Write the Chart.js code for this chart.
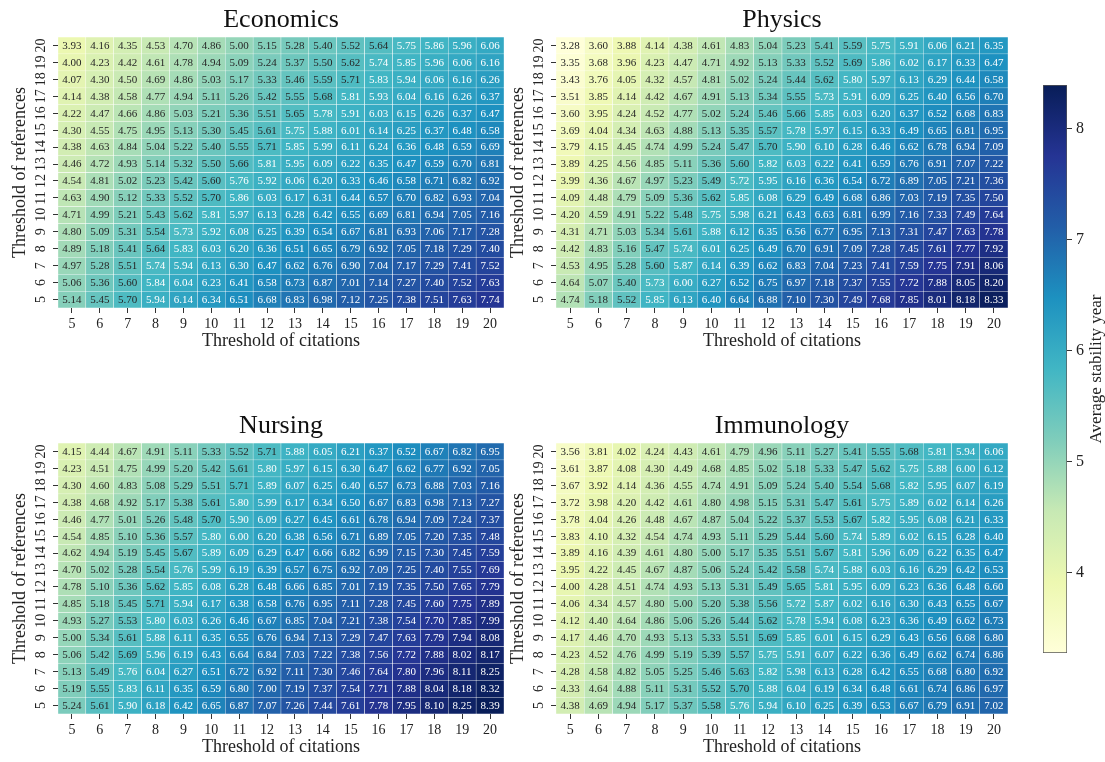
<!DOCTYPE html>
<html>
  <head>
    <meta charset="utf-8">
    <title>Average stability year by citation and reference thresholds</title>
    <style>
      body { margin: 0; background: #fff; overflow: hidden; }
      #wrap { position: relative; width: 1105px; height: 762px; }
      canvas { position: absolute; }
    </style>
  </head>
  <body>
    <div id="wrap">
      <canvas id="economics" width="510" height="356" style="left:0;top:0"></canvas>
      <canvas id="physics" width="512" height="356" style="left:498px;top:0"></canvas>
      <canvas id="nursing" width="510" height="356" style="left:0;top:406px"></canvas>
      <canvas id="immunology" width="512" height="356" style="left:498px;top:406px"></canvas>
      <canvas id="colorbar" width="82" height="762" style="left:1030px;top:0"></canvas>
    </div>

    <script src="https://cdn.jsdelivr.net/npm/chart.js"></script>
    <script>
      // columns: threshold of citations, rows: threshold of references (top row = 20)
      const citations = [5, 6, 7, 8, 9, 10, 11, 12, 13, 14, 15, 16, 17, 18, 19, 20];
      const refRows = [20, 19, 18, 17, 16, 15, 14, 13, 12, 11, 10, 9, 8, 7, 6, 5];
      const cbTicks = [4, 5, 6, 7, 8];

      const economics = [
        [3.93, 4.16, 4.35, 4.53, 4.70, 4.86, 5.00, 5.15, 5.28, 5.40, 5.52, 5.64, 5.75, 5.86, 5.96, 6.06],
        [4.00, 4.23, 4.42, 4.61, 4.78, 4.94, 5.09, 5.24, 5.37, 5.50, 5.62, 5.74, 5.85, 5.96, 6.06, 6.16],
        [4.07, 4.30, 4.50, 4.69, 4.86, 5.03, 5.17, 5.33, 5.46, 5.59, 5.71, 5.83, 5.94, 6.06, 6.16, 6.26],
        [4.14, 4.38, 4.58, 4.77, 4.94, 5.11, 5.26, 5.42, 5.55, 5.68, 5.81, 5.93, 6.04, 6.16, 6.26, 6.37],
        [4.22, 4.47, 4.66, 4.86, 5.03, 5.21, 5.36, 5.51, 5.65, 5.78, 5.91, 6.03, 6.15, 6.26, 6.37, 6.47],
        [4.30, 4.55, 4.75, 4.95, 5.13, 5.30, 5.45, 5.61, 5.75, 5.88, 6.01, 6.14, 6.25, 6.37, 6.48, 6.58],
        [4.38, 4.63, 4.84, 5.04, 5.22, 5.40, 5.55, 5.71, 5.85, 5.99, 6.11, 6.24, 6.36, 6.48, 6.59, 6.69],
        [4.46, 4.72, 4.93, 5.14, 5.32, 5.50, 5.66, 5.81, 5.95, 6.09, 6.22, 6.35, 6.47, 6.59, 6.70, 6.81],
        [4.54, 4.81, 5.02, 5.23, 5.42, 5.60, 5.76, 5.92, 6.06, 6.20, 6.33, 6.46, 6.58, 6.71, 6.82, 6.92],
        [4.63, 4.90, 5.12, 5.33, 5.52, 5.70, 5.86, 6.03, 6.17, 6.31, 6.44, 6.57, 6.70, 6.82, 6.93, 7.04],
        [4.71, 4.99, 5.21, 5.43, 5.62, 5.81, 5.97, 6.13, 6.28, 6.42, 6.55, 6.69, 6.81, 6.94, 7.05, 7.16],
        [4.80, 5.09, 5.31, 5.54, 5.73, 5.92, 6.08, 6.25, 6.39, 6.54, 6.67, 6.81, 6.93, 7.06, 7.17, 7.28],
        [4.89, 5.18, 5.41, 5.64, 5.83, 6.03, 6.20, 6.36, 6.51, 6.65, 6.79, 6.92, 7.05, 7.18, 7.29, 7.40],
        [4.97, 5.28, 5.51, 5.74, 5.94, 6.13, 6.30, 6.47, 6.62, 6.76, 6.90, 7.04, 7.17, 7.29, 7.41, 7.52],
        [5.06, 5.36, 5.60, 5.84, 6.04, 6.23, 6.41, 6.58, 6.73, 6.87, 7.01, 7.14, 7.27, 7.40, 7.52, 7.63],
        [5.14, 5.45, 5.70, 5.94, 6.14, 6.34, 6.51, 6.68, 6.83, 6.98, 7.12, 7.25, 7.38, 7.51, 7.63, 7.74]
      ];

      const physics = [
        [3.28, 3.60, 3.88, 4.14, 4.38, 4.61, 4.83, 5.04, 5.23, 5.41, 5.59, 5.75, 5.91, 6.06, 6.21, 6.35],
        [3.35, 3.68, 3.96, 4.23, 4.47, 4.71, 4.92, 5.13, 5.33, 5.52, 5.69, 5.86, 6.02, 6.17, 6.33, 6.47],
        [3.43, 3.76, 4.05, 4.32, 4.57, 4.81, 5.02, 5.24, 5.44, 5.62, 5.80, 5.97, 6.13, 6.29, 6.44, 6.58],
        [3.51, 3.85, 4.14, 4.42, 4.67, 4.91, 5.13, 5.34, 5.55, 5.73, 5.91, 6.09, 6.25, 6.40, 6.56, 6.70],
        [3.60, 3.95, 4.24, 4.52, 4.77, 5.02, 5.24, 5.46, 5.66, 5.85, 6.03, 6.20, 6.37, 6.52, 6.68, 6.83],
        [3.69, 4.04, 4.34, 4.63, 4.88, 5.13, 5.35, 5.57, 5.78, 5.97, 6.15, 6.33, 6.49, 6.65, 6.81, 6.95],
        [3.79, 4.15, 4.45, 4.74, 4.99, 5.24, 5.47, 5.70, 5.90, 6.10, 6.28, 6.46, 6.62, 6.78, 6.94, 7.09],
        [3.89, 4.25, 4.56, 4.85, 5.11, 5.36, 5.60, 5.82, 6.03, 6.22, 6.41, 6.59, 6.76, 6.91, 7.07, 7.22],
        [3.99, 4.36, 4.67, 4.97, 5.23, 5.49, 5.72, 5.95, 6.16, 6.36, 6.54, 6.72, 6.89, 7.05, 7.21, 7.36],
        [4.09, 4.48, 4.79, 5.09, 5.36, 5.62, 5.85, 6.08, 6.29, 6.49, 6.68, 6.86, 7.03, 7.19, 7.35, 7.50],
        [4.20, 4.59, 4.91, 5.22, 5.48, 5.75, 5.98, 6.21, 6.43, 6.63, 6.81, 6.99, 7.16, 7.33, 7.49, 7.64],
        [4.31, 4.71, 5.03, 5.34, 5.61, 5.88, 6.12, 6.35, 6.56, 6.77, 6.95, 7.13, 7.31, 7.47, 7.63, 7.78],
        [4.42, 4.83, 5.16, 5.47, 5.74, 6.01, 6.25, 6.49, 6.70, 6.91, 7.09, 7.28, 7.45, 7.61, 7.77, 7.92],
        [4.53, 4.95, 5.28, 5.60, 5.87, 6.14, 6.39, 6.62, 6.83, 7.04, 7.23, 7.41, 7.59, 7.75, 7.91, 8.06],
        [4.64, 5.07, 5.40, 5.73, 6.00, 6.27, 6.52, 6.75, 6.97, 7.18, 7.37, 7.55, 7.72, 7.88, 8.05, 8.20],
        [4.74, 5.18, 5.52, 5.85, 6.13, 6.40, 6.64, 6.88, 7.10, 7.30, 7.49, 7.68, 7.85, 8.01, 8.18, 8.33]
      ];

      const nursing = [
        [4.15, 4.44, 4.67, 4.91, 5.11, 5.33, 5.52, 5.71, 5.88, 6.05, 6.21, 6.37, 6.52, 6.67, 6.82, 6.95],
        [4.23, 4.51, 4.75, 4.99, 5.20, 5.42, 5.61, 5.80, 5.97, 6.15, 6.30, 6.47, 6.62, 6.77, 6.92, 7.05],
        [4.30, 4.60, 4.83, 5.08, 5.29, 5.51, 5.71, 5.89, 6.07, 6.25, 6.40, 6.57, 6.73, 6.88, 7.03, 7.16],
        [4.38, 4.68, 4.92, 5.17, 5.38, 5.61, 5.80, 5.99, 6.17, 6.34, 6.50, 6.67, 6.83, 6.98, 7.13, 7.27],
        [4.46, 4.77, 5.01, 5.26, 5.48, 5.70, 5.90, 6.09, 6.27, 6.45, 6.61, 6.78, 6.94, 7.09, 7.24, 7.37],
        [4.54, 4.85, 5.10, 5.36, 5.57, 5.80, 6.00, 6.20, 6.38, 6.56, 6.71, 6.89, 7.05, 7.20, 7.35, 7.48],
        [4.62, 4.94, 5.19, 5.45, 5.67, 5.89, 6.09, 6.29, 6.47, 6.66, 6.82, 6.99, 7.15, 7.30, 7.45, 7.59],
        [4.70, 5.02, 5.28, 5.54, 5.76, 5.99, 6.19, 6.39, 6.57, 6.75, 6.92, 7.09, 7.25, 7.40, 7.55, 7.69],
        [4.78, 5.10, 5.36, 5.62, 5.85, 6.08, 6.28, 6.48, 6.66, 6.85, 7.01, 7.19, 7.35, 7.50, 7.65, 7.79],
        [4.85, 5.18, 5.45, 5.71, 5.94, 6.17, 6.38, 6.58, 6.76, 6.95, 7.11, 7.28, 7.45, 7.60, 7.75, 7.89],
        [4.93, 5.27, 5.53, 5.80, 6.03, 6.26, 6.46, 6.67, 6.85, 7.04, 7.21, 7.38, 7.54, 7.70, 7.85, 7.99],
        [5.00, 5.34, 5.61, 5.88, 6.11, 6.35, 6.55, 6.76, 6.94, 7.13, 7.29, 7.47, 7.63, 7.79, 7.94, 8.08],
        [5.06, 5.42, 5.69, 5.96, 6.19, 6.43, 6.64, 6.84, 7.03, 7.22, 7.38, 7.56, 7.72, 7.88, 8.02, 8.17],
        [5.13, 5.49, 5.76, 6.04, 6.27, 6.51, 6.72, 6.92, 7.11, 7.30, 7.46, 7.64, 7.80, 7.96, 8.11, 8.25],
        [5.19, 5.55, 5.83, 6.11, 6.35, 6.59, 6.80, 7.00, 7.19, 7.37, 7.54, 7.71, 7.88, 8.04, 8.18, 8.32],
        [5.24, 5.61, 5.90, 6.18, 6.42, 6.65, 6.87, 7.07, 7.26, 7.44, 7.61, 7.78, 7.95, 8.10, 8.25, 8.39]
      ];

      const immunology = [
        [3.56, 3.81, 4.02, 4.24, 4.43, 4.61, 4.79, 4.96, 5.11, 5.27, 5.41, 5.55, 5.68, 5.81, 5.94, 6.06],
        [3.61, 3.87, 4.08, 4.30, 4.49, 4.68, 4.85, 5.02, 5.18, 5.33, 5.47, 5.62, 5.75, 5.88, 6.00, 6.12],
        [3.67, 3.92, 4.14, 4.36, 4.55, 4.74, 4.91, 5.09, 5.24, 5.40, 5.54, 5.68, 5.82, 5.95, 6.07, 6.19],
        [3.72, 3.98, 4.20, 4.42, 4.61, 4.80, 4.98, 5.15, 5.31, 5.47, 5.61, 5.75, 5.89, 6.02, 6.14, 6.26],
        [3.78, 4.04, 4.26, 4.48, 4.67, 4.87, 5.04, 5.22, 5.37, 5.53, 5.67, 5.82, 5.95, 6.08, 6.21, 6.33],
        [3.83, 4.10, 4.32, 4.54, 4.74, 4.93, 5.11, 5.29, 5.44, 5.60, 5.74, 5.89, 6.02, 6.15, 6.28, 6.40],
        [3.89, 4.16, 4.39, 4.61, 4.80, 5.00, 5.17, 5.35, 5.51, 5.67, 5.81, 5.96, 6.09, 6.22, 6.35, 6.47],
        [3.95, 4.22, 4.45, 4.67, 4.87, 5.06, 5.24, 5.42, 5.58, 5.74, 5.88, 6.03, 6.16, 6.29, 6.42, 6.53],
        [4.00, 4.28, 4.51, 4.74, 4.93, 5.13, 5.31, 5.49, 5.65, 5.81, 5.95, 6.09, 6.23, 6.36, 6.48, 6.60],
        [4.06, 4.34, 4.57, 4.80, 5.00, 5.20, 5.38, 5.56, 5.72, 5.87, 6.02, 6.16, 6.30, 6.43, 6.55, 6.67],
        [4.12, 4.40, 4.64, 4.86, 5.06, 5.26, 5.44, 5.62, 5.78, 5.94, 6.08, 6.23, 6.36, 6.49, 6.62, 6.73],
        [4.17, 4.46, 4.70, 4.93, 5.13, 5.33, 5.51, 5.69, 5.85, 6.01, 6.15, 6.29, 6.43, 6.56, 6.68, 6.80],
        [4.23, 4.52, 4.76, 4.99, 5.19, 5.39, 5.57, 5.75, 5.91, 6.07, 6.22, 6.36, 6.49, 6.62, 6.74, 6.86],
        [4.28, 4.58, 4.82, 5.05, 5.25, 5.46, 5.63, 5.82, 5.98, 6.13, 6.28, 6.42, 6.55, 6.68, 6.80, 6.92],
        [4.33, 4.64, 4.88, 5.11, 5.31, 5.52, 5.70, 5.88, 6.04, 6.19, 6.34, 6.48, 6.61, 6.74, 6.86, 6.97],
        [4.38, 4.69, 4.94, 5.17, 5.37, 5.58, 5.76, 5.94, 6.10, 6.25, 6.39, 6.53, 6.67, 6.79, 6.91, 7.02]
      ];

      const ylgnbu = ['#ffffd9', '#edf8b1', '#c7e9b4', '#7fcdbb', '#41b6c4', '#1d91c0', '#225ea8', '#253494', '#081d58'];

      const all = [].concat(...economics, ...physics, ...nursing, ...immunology);
      const vmin = Math.min(...all);
      const vmax = Math.max(...all);

      Chart.defaults.font.family = '"Liberation Serif", "DejaVu Serif", serif';
      Chart.defaults.color = '#222';

      function hexRgb(h) {
        return [1, 3, 5].map(i => parseInt(h.slice(i, i + 2), 16));
      }

      function rgbFor(v) {
        let t = (v - vmin) / (vmax - vmin);
        t = Math.max(0, Math.min(1, t));
        const p = t * (ylgnbu.length - 1);
        const i = Math.min(Math.floor(p), ylgnbu.length - 2);
        const f = p - i;
        const a = hexRgb(ylgnbu[i]), b = hexRgb(ylgnbu[i + 1]);
        return a.map((c, k) => Math.round(c + (b[k] - c) * f));
      }

      function colorFor(v) {
        const c = rgbFor(v);
        return `rgb(${c[0]},${c[1]},${c[2]})`;
      }

      // same rule seaborn uses to pick light or dark annotation text
      function textColor(v) {
        const lin = rgbFor(v).map(c => {
          c = c / 255;
          return c <= 0.03928 ? c / 12.92 : Math.pow((c + 0.055) / 1.055, 2.4);
        });
        const lum = 0.2126 * lin[0] + 0.7152 * lin[1] + 0.0722 * lin[2];
        return lum > 0.408 ? '#262626' : '#ffffff';
      }

      const panelTitle = {
        id: 'panelTitle',
        afterDraw(chart, args, opts) {
          const a = chart.chartArea;
          const ctx = chart.ctx;
          ctx.save();
          ctx.font = '26px "Liberation Serif", serif';
          ctx.fillStyle = '#111';
          ctx.textAlign = 'center';
          ctx.textBaseline = 'middle';
          ctx.fillText(opts.text, (a.left + a.right) / 2, a.top - 17);
          ctx.restore();
        }
      };

      const cellText = {
        id: 'cellText',
        afterDatasetsDraw(chart) {
          const ctx = chart.ctx;
          ctx.save();
          ctx.font = '11px "Liberation Serif", serif';
          ctx.textAlign = 'center';
          ctx.textBaseline = 'middle';
          chart.data.datasets.forEach((ds, i) => {
            chart.getDatasetMeta(i).data.forEach((bar, j) => {
              const v = ds.values[j];
              ctx.fillStyle = textColor(v);
              ctx.fillText(v.toFixed(2), bar.x, (bar.y + bar.base) / 2 + 0.5);
            });
          });
          ctx.restore();
        }
      };

      function heatmap(id, values, title, padRight) {
        const datasets = refRows.map((ref, r) => ({
          label: String(ref),
          values: values[r],
          data: values[r].map(() => [ref - 0.5, ref + 0.5]),
          backgroundColor: values[r].map(colorFor)
        }));
        const tickGrid = { drawOnChartArea: false, tickLength: 5, color: '#333', lineWidth: 1 };
        return new Chart(document.getElementById(id), {
          type: 'bar',
          data: { labels: citations.map(String), datasets: datasets },
          options: {
            responsive: false,
            animation: false,
            layout: { padding: { top: 37, right: padRight, bottom: 0, left: 0 } },
            datasets: {
              bar: {
                grouped: false,
                categoryPercentage: 1,
                barPercentage: 1,
                borderWidth: 0.5,
                borderColor: '#ffffff',
                borderSkipped: false
              }
            },
            plugins: {
              legend: { display: false },
              tooltip: { enabled: false },
              panelTitle: { text: title }
            },
            scales: {
              x: {
                type: 'category',
                offset: true,
                grid: Object.assign({ offset: false }, tickGrid),
                border: { display: false },
                ticks: { font: { size: 14 }, padding: 3, maxRotation: 0, autoSkip: false },
                title: {
                  display: true,
                  text: 'Threshold of citations',
                  font: { size: 18 },
                  padding: { top: 0, bottom: 4 }
                },
                afterFit: s => { s.height = 48; }
              },
              y: {
                type: 'linear',
                min: 4.5,
                max: 20.5,
                afterBuildTicks: s => { s.ticks = refRows.slice().reverse().map(v => ({ value: v })); },
                grid: tickGrid,
                border: { display: false },
                ticks: {
                  font: { size: 14 },
                  padding: 5,
                  minRotation: 90,
                  maxRotation: 90,
                  crossAlign: 'center',
                  autoSkip: false
                },
                title: {
                  display: true,
                  text: 'Threshold of references',
                  font: { size: 18 },
                  padding: { top: 9, bottom: 0 }
                },
                afterFit: s => { s.width = 58; }
              }
            }
          },
          plugins: [panelTitle, cellText]
        });
      }

      heatmap('economics', economics, 'Economics', 6);
      heatmap('physics', physics, 'Physics', 2);
      heatmap('nursing', nursing, 'Nursing', 6);
      heatmap('immunology', immunology, 'Immunology', 2);

      const cbLabel = {
        id: 'cbLabel',
        afterDraw(chart) {
          const a = chart.chartArea;
          const ctx = chart.ctx;
          ctx.save();
          ctx.translate(67, (a.top + a.bottom) / 2);
          ctx.rotate(-Math.PI / 2);
          ctx.font = '17px "Liberation Serif", serif';
          ctx.fillStyle = '#222';
          ctx.textAlign = 'center';
          ctx.textBaseline = 'middle';
          ctx.fillText('Average stability year', 0, 0);
          ctx.restore();
        }
      };

      new Chart(document.getElementById('colorbar'), {
        type: 'bar',
        data: {
          labels: [''],
          datasets: [{
            data: [[vmin, vmax]],
            backgroundColor: (c) => {
              const a = c.chart.chartArea;
              if (!a) return null;
              const g = c.chart.ctx.createLinearGradient(0, a.bottom, 0, a.top);
              ylgnbu.forEach((col, i) => g.addColorStop(i / (ylgnbu.length - 1), col));
              return g;
            },
            borderColor: '#555',
            borderWidth: 1,
            borderSkipped: false,
            categoryPercentage: 1,
            barPercentage: 1
          }]
        },
        options: {
          responsive: false,
          animation: false,
          layout: { padding: { top: 85, bottom: 109, left: 13, right: 0 } },
          plugins: { legend: { display: false }, tooltip: { enabled: false } },
          scales: {
            x: { display: false },
            y: {
              position: 'right',
              min: vmin,
              max: vmax,
              afterBuildTicks: s => { s.ticks = cbTicks.map(v => ({ value: v })); },
              grid: { drawOnChartArea: false, tickLength: 5, color: '#333' },
              border: { display: false },
              ticks: { font: { size: 16 }, padding: 4 },
              afterFit: s => { s.width = 45; }
            }
          }
        },
        plugins: [cbLabel]
      });
    </script>
  </body>
</html>
